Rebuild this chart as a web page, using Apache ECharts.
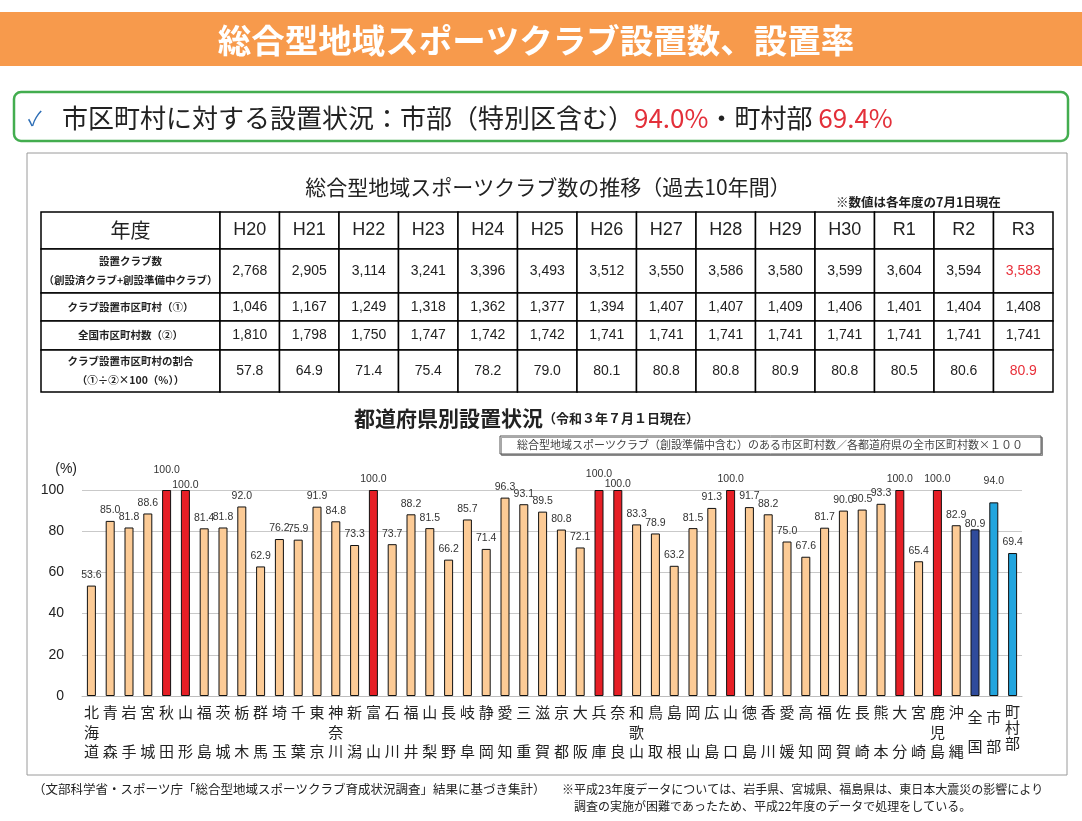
<!DOCTYPE html>
<html lang="ja">
<head>
<meta charset="UTF-8">
<title>総合型地域スポーツクラブ設置数、設置率</title>
<script src="https://cdn.jsdelivr.net/npm/echarts@6/dist/echarts.min.js"></script>
<style>
    html, body, #chart {
        width: 100%;
        height: 100%;
        margin: 0;
        padding: 0;
        background: #fff;
    }
</style>
</head>
<body>
<div id="chart"></div>
<script>
    var JP = '"Noto Sans CJK JP", "Noto Sans", sans-serif';
    var LATIN = '"Liberation Sans", Arial, sans-serif';

    // 推移表（過去10年間）
    var years = ["H20", "H21", "H22", "H23", "H24", "H25", "H26", "H27", "H28", "H29", "H30", "R1", "R2", "R3"];
    var clubCounts = [2768, 2905, 3114, 3241, 3396, 3493, 3512, 3550, 3586, 3580, 3599, 3604, 3594, 3583];
    var townsWithClub = [1046, 1167, 1249, 1318, 1362, 1377, 1394, 1407, 1407, 1409, 1406, 1401, 1404, 1408];
    var townsTotal = [1810, 1798, 1750, 1747, 1742, 1742, 1741, 1741, 1741, 1741, 1741, 1741, 1741, 1741];
    var clubRate = [57.8, 64.9, 71.4, 75.4, 78.2, 79.0, 80.1, 80.8, 80.8, 80.9, 80.8, 80.5, 80.6, 80.9];
    var rowLabels = [
        "年度",
        "設置クラブ数\n（創設済クラブ+創設準備中クラブ）",
        "クラブ設置市区町村（①）",
        "全国市区町村数（②）",
        "クラブ設置市区町村の割合\n（①÷②×100（%））"
    ];

    // 都道府県別設置状況
    var prefNames = ["北海道", "青森", "岩手", "宮城", "秋田", "山形", "福島", "茨城", "栃木", "群馬",
        "埼玉", "千葉", "東京", "神奈川", "新潟", "富山", "石川", "福井", "山梨", "長野",
        "岐阜", "静岡", "愛知", "三重", "滋賀", "京都", "大阪", "兵庫", "奈良", "和歌山",
        "鳥取", "島根", "岡山", "広島", "山口", "徳島", "香川", "愛媛", "高知", "福岡",
        "佐賀", "長崎", "熊本", "大分", "宮崎", "鹿児島", "沖縄", "全国", "市部", "町村部"];
    var prefRates = [53.6, 85.0, 81.8, 88.6, 100.0, 100.0, 81.4, 81.8, 92.0, 62.9,
        76.2, 75.9, 91.9, 84.8, 73.3, 100.0, 73.7, 88.2, 81.5, 66.2,
        85.7, 71.4, 96.3, 93.1, 89.5, 80.8, 72.1, 100.0, 100.0, 83.3,
        78.9, 63.2, 81.5, 91.3, 100.0, 91.7, 88.2, 75.0, 67.6, 81.7,
        90.0, 90.5, 93.3, 100.0, 65.4, 100.0, 82.9, 80.9, 94.0, 69.4];

    // table row boundaries (px, from table top) - rows are not all the same height
    var rowEdges = [0, 37, 81, 109, 138, 180];

    // label nudges so the 100.0 labels do not collide
    var labelShift = {"秋田": -9, "山形": 6, "兵庫": -5, "奈良": 5, "全国": 5, "市部": -11};

    function fmt(n) {
        return n.toLocaleString("en-US");
    }

    function barColor(name, v) {
        if (name === "全国") return "#2f4b9c";
        if (name === "市部" || name === "町村部") return "#22a5de";
        if (v >= 100) return "#e61f26";
        return "#fccb96";
    }

    var tableRows = [
        years,
        clubCounts.map(fmt),
        townsWithClub.map(fmt),
        townsTotal.map(fmt),
        clubRate.map(function (v) { return v.toFixed(1); })
    ];
    var redCells = {"13,1": true, "13,4": true};

    // cell lists: [col, row] plus the text/style to draw
    var yearCells = [], yearText = [];
    tableRows.forEach(function (row, r) {
        row.forEach(function (text, c) {
            yearCells.push([c, r]);
            yearText.push({
                text: String(text),
                font: (r === 0 ? "18px " : "14px ") + LATIN,
                fill: redCells[c + "," + r] ? "#e8303a" : "#222"
            });
        });
    });
    var headCells = [], headText = [];
    rowLabels.forEach(function (text, r) {
        headCells.push([0, r]);
        headText.push({
            text: text,
            font: r === 0 ? "20px " + JP : "bold 10.5px " + JP,
            fill: "#222",
            lineHeight: r === 0 ? 24 : 19
        });
    });

    function cellRenderer(texts) {
        return function (params, api) {
            var c = api.value(0), r = api.value(1);
            var p0 = api.coord([c, rowEdges[r]]);
            var p1 = api.coord([c, rowEdges[r + 1]]);
            var w = api.size([1, 0])[0];
            var t = texts[params.dataIndex];
            return {
                type: "group",
                children: [{
                    type: "rect",
                    shape: {x: p0[0] - w / 2, y: p0[1], width: w, height: p1[1] - p0[1]},
                    style: {fill: "#fff", stroke: "#000", lineWidth: 1.5}
                }, {
                    type: "text",
                    x: p0[0],
                    y: (p0[1] + p1[1]) / 2,
                    style: {
                        text: t.text, font: t.font, fill: t.fill, lineHeight: t.lineHeight,
                        align: "center", verticalAlign: "middle"
                    }
                }]
            };
        };
    }

    var chart = echarts.init(document.getElementById("chart"));

    chart.setOption({
        animation: false,
        grid: [
            {left: 41, top: 212, width: 179, height: 180},
            {left: 220, top: 212, width: 833, height: 180},
            {left: 82, top: 490, right: 60, bottom: 125}
        ],
        xAxis: [
            {type: "category", gridIndex: 0, data: ["年度"], show: false},
            {type: "category", gridIndex: 1, data: years, show: false},
            {
                type: "category",
                gridIndex: 2,
                data: prefNames,
                axisLine: {lineStyle: {color: "#bdbdbd"}},
                axisTick: {show: false},
                axisLabel: {
                    interval: 0,
                    margin: 7,
                    color: "#222",
                    fontFamily: JP,
                    fontSize: 15,
                    lineHeight: 19.5,
                    rich: {
                        w: {fontFamily: JP, fontSize: 15, color: "#222", lineHeight: 29},
                        n: {fontFamily: JP, fontSize: 15, color: "#222", lineHeight: 16}
                    },
                    formatter: function (name) {
                        var ch = name.split("");
                        if (name === "全国" || name === "市部") {
                            return "{w|" + ch.join("}\n{w|") + "}";
                        }
                        if (name === "町村部") {
                            return "{n|" + ch.join("}\n{n|") + "}";
                        }
                        if (ch.length === 2) return ch[0] + "\n\n" + ch[1];
                        return ch.join("\n");
                    }
                }
            }
        ],
        yAxis: [
            {type: "value", gridIndex: 0, min: 0, max: 180, inverse: true, show: false},
            {type: "value", gridIndex: 1, min: 0, max: 180, inverse: true, show: false},
            {
                type: "value",
                gridIndex: 2,
                min: 0,
                max: 100,
                interval: 20,
                name: "(%)",
                nameGap: 14,
                nameTextStyle: {align: "right", padding: [0, 5, 0, 0], color: "#222", fontSize: 14, fontFamily: LATIN},
                axisLine: {show: false},
                axisTick: {show: false},
                axisLabel: {margin: 18, color: "#222", fontSize: 14, fontFamily: LATIN},
                splitLine: {lineStyle: {color: "#c9c9c9"}}
            }
        ],
        series: [
            {
                type: "custom",
                xAxisIndex: 0,
                yAxisIndex: 0,
                silent: true,
                data: headCells,
                renderItem: cellRenderer(headText)
            },
            {
                type: "custom",
                xAxisIndex: 1,
                yAxisIndex: 1,
                silent: true,
                data: yearCells,
                renderItem: cellRenderer(yearText)
            },
            {
                type: "bar",
                xAxisIndex: 2,
                yAxisIndex: 2,
                barWidth: 9,
                data: prefNames.map(function (name, i) {
                    return {
                        value: prefRates[i],
                        itemStyle: {color: barColor(name, prefRates[i])},
                        label: {offset: [0, labelShift[name] || 0]}
                    };
                }),
                itemStyle: {borderColor: "#111", borderWidth: 1},
                label: {
                    show: true,
                    position: "top",
                    distance: 5,
                    color: "#333",
                    fontSize: 10.5,
                    fontFamily: LATIN,
                    formatter: function (p) { return p.value.toFixed(1); }
                }
            }
        ],
        graphic: [
            // header band
            {type: "rect", z: 1, shape: {x: 0, y: 12, width: 1082, height: 54}, style: {fill: "#f79a4c"}},
            {
                type: "text", z: 2, x: 536, y: 40,
                style: {text: "総合型地域スポーツクラブ設置数、設置率", fill: "#fff", font: "bold 33.5px " + JP, align: "center", verticalAlign: "middle"}
            },
            // summary box
            {
                type: "rect", z: 1, shape: {x: 14, y: 92, width: 1054, height: 49, r: 7},
                style: {fill: "#fff", stroke: "#43ad4f", lineWidth: 2.5}
            },
            {
                type: "text", z: 2, x: 28, y: 118,
                style: {text: "✓", fill: "#2c6db5", font: "20px " + JP, verticalAlign: "middle"}
            },
            {
                type: "text", z: 2, x: 62, y: 118,
                style: {
                    text: "市区町村に対する設置状況：市部（特別区含む）{r|" + prefRates[48].toFixed(1) + "%}・町村部 {r|" + prefRates[49].toFixed(1) + "%}",
                    fill: "#222",
                    font: "26px " + JP,
                    verticalAlign: "middle",
                    rich: {r: {fill: "#e3303a", font: "26px " + JP}}
                }
            },
            // outer frame
            {
                type: "rect", z: 0, shape: {x: 27, y: 153, width: 1040, height: 622},
                style: {fill: "none", stroke: "#9a9a9a", lineWidth: 1}
            },
            {
                type: "text", z: 2, x: 548, y: 187,
                style: {text: "総合型地域スポーツクラブ数の推移（過去10年間）", fill: "#222", font: "21px " + JP, align: "center", verticalAlign: "middle"}
            },
            {
                type: "text", z: 2, x: 836, y: 202,
                style: {text: "※数値は各年度の7月1日現在", fill: "#222", font: "bold 12.5px " + JP, verticalAlign: "middle"}
            },
            {
                type: "text", z: 2, x: 354, y: 418,
                style: {
                    text: "都道府県別設置状況{s|（令和３年７月１日現在）}",
                    fill: "#222",
                    font: "bold 21px " + JP,
                    verticalAlign: "middle",
                    rich: {s: {fill: "#222", font: "bold 13px " + JP}}
                }
            },
            // formula box
            {
                type: "rect", z: 1, shape: {x: 500, y: 436, width: 541, height: 18},
                style: {fill: "#fff", stroke: "#555", lineWidth: 1, shadowColor: "rgba(0,0,0,0.35)", shadowOffsetX: 1.5, shadowOffsetY: 1.5}
            },
            {
                type: "text", z: 2, x: 770, y: 445,
                style: {text: "総合型地域スポーツクラブ（創設準備中含む）のある市区町村数／各都道府県の全市区町村数×１００", fill: "#444", font: "11px " + JP, align: "center", verticalAlign: "middle"}
            },
            // footnotes
            {
                type: "text", z: 2, x: 33, y: 789,
                style: {text: "（文部科学省・スポーツ庁「総合型地域スポーツクラブ育成状況調査」結果に基づき集計）", fill: "#222", font: "12.5px " + JP, verticalAlign: "middle"}
            },
            {
                type: "text", z: 2, x: 562, y: 789,
                style: {text: "※平成23年度データについては、岩手県、宮城県、福島県は、東日本大震災の影響により", fill: "#222", font: "12px " + JP, verticalAlign: "middle"}
            },
            {
                type: "text", z: 2, x: 574, y: 806,
                style: {text: "調査の実施が困難であったため、平成22年度のデータで処理をしている。", fill: "#222", font: "12px " + JP, verticalAlign: "middle"}
            }
        ]
    });
</script>
</body>
</html>
